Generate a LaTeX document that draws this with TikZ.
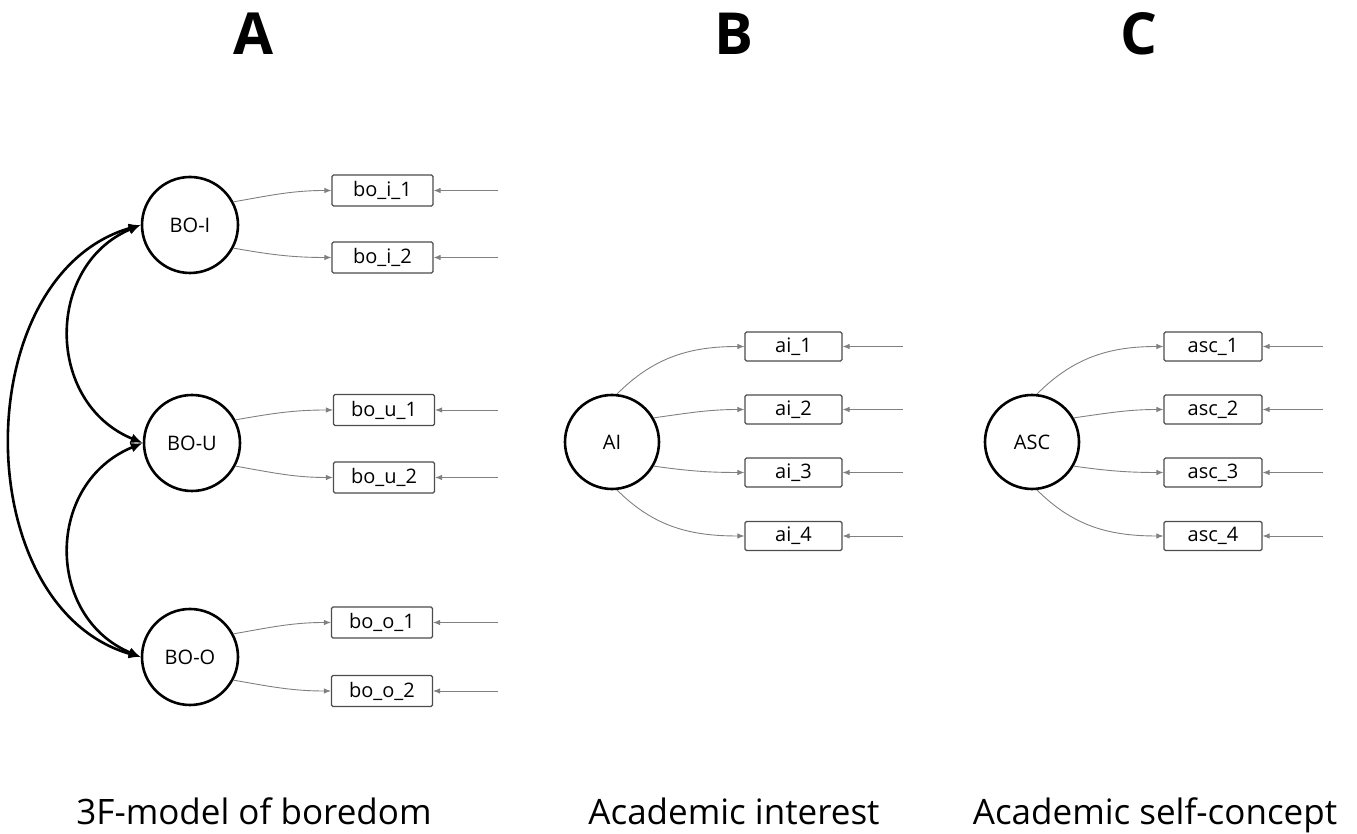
\documentclass[tikz,border=0pt]{standalone}
\usepackage{fontspec}
\setmainfont{Open Sans}
\usetikzlibrary{arrows.meta}
\begin{document}
\begin{tikzpicture}[x=1pt,y=1pt,
  latent/.style={circle,draw=black,line width=2.6pt,minimum size=96pt,inner sep=0pt,
    font=\fontsize{20}{22}\selectfont},
  latentsm/.style={latent,minimum size=94pt},
  indicator/.style={rectangle,draw=black!70,line width=1.2pt,rounded corners=1.5pt,
    minimum width=101pt,minimum height=31pt,inner sep=0pt,font=\fontsize{20}{22}\selectfont},
  indicatorsm/.style={indicator,minimum width=97pt,minimum height=29pt},
  loading/.style={draw=black!50,line width=0.9pt,-{Latex[length=7pt,width=5.5pt]}},
  residual/.style={draw=black!50,line width=0.9pt,-{Latex[length=7pt,width=5.5pt]}},
  covar/.style={draw=black,line width=2.6pt,
    {Latex[length=12pt,width=10pt]}-{Latex[length=12pt,width=10pt]}},
  paneltitle/.style={anchor=base,font=\fontsize{58}{64}\selectfont\bfseries},
  panelcaption/.style={anchor=base,font=\fontsize{35}{40}\selectfont}]
\useasboundingbox (0,0) rectangle (1357,834);

% panel headings
\node[paneltitle] (tA) at (254,779) {A};
\node[paneltitle] (tB) at (734,779) {B};
\node[paneltitle] (tC) at (1139,779) {C};

% panel captions
\node[panelcaption] (cA) at (254,9) {3F-model of boredom};
\node[panelcaption] (cB) at (734,9) {Academic interest};
\node[panelcaption] (cC) at (1155,9) {Academic self-concept};

% ---------- A: three-factor boredom model ----------
\node[latent] (BOI) at (190,609) {BO-I};
\node[latent] (BOU) at (192,391) {BO-U};
\node[latent] (BOO) at (190,177) {BO-O};

\node[indicator] (boi1) at (382.5,643.5) {bo\_i\_1};
\node[indicator] (boi2) at (382.5,576.5) {bo\_i\_2};
\node[indicator] (bou1) at (384,424) {bo\_u\_1};
\node[indicator] (bou2) at (384,356.5) {bo\_u\_2};
\node[indicator] (boo1) at (382,211.5) {bo\_o\_1};
\node[indicator] (boo2) at (382,143) {bo\_o\_2};

\foreach \f/\a/\b in {BOI/boi1/boi2,BOU/bou1/bou2,BOO/boo1/boo2}{
  \draw[loading] (\f.28) to[out=10,in=180] (\a.west);
  \draw[loading] (\f.-28) to[out=-10,in=180] (\b.west);
}
\foreach \i in {boi1,boi2,bou1,bou2,boo1,boo2}{
  \coordinate (e\i) at (498,0 |- \i.east);
  \draw[residual] (e\i) -- (\i.east);
}

% factor covariances
\draw[covar] (BOI.west) .. controls (45,569) and (45,431) .. (BOU.west);
\draw[covar] (BOU.west) .. controls (45,351) and (45,217) .. (BOO.west);
\draw[covar] (BOI.west) .. controls (-33,559) and (-33,227) .. (BOO.west);

% ---------- B: academic interest ----------
\node[latentsm] (AI) at (612,392) {AI};
\node[indicatorsm] (ai1) at (793.5,487.5) {ai\_1};
\node[indicatorsm] (ai2) at (793.5,424.5) {ai\_2};
\node[indicatorsm] (ai3) at (793.5,361.5) {ai\_3};
\node[indicatorsm] (ai4) at (793.5,298) {ai\_4};

% ---------- C: academic self-concept ----------
\node[latentsm] (ASC) at (1032,392) {ASC};
\node[indicatorsm,minimum width=98pt] (asc1) at (1213,487.5) {asc\_1};
\node[indicatorsm,minimum width=98pt] (asc2) at (1213,424.5) {asc\_2};
\node[indicatorsm,minimum width=98pt] (asc3) at (1213,361.5) {asc\_3};
\node[indicatorsm,minimum width=98pt] (asc4) at (1213,298) {asc\_4};

\foreach \f/\p/\x in {AI/ai/903,ASC/asc/1323}{
  \draw[loading] (\f.84) to[out=45,in=180] (\p1.west);
  \draw[loading] (\f.30) to[out=8,in=180] (\p2.west);
  \draw[loading] (\f.-30) to[out=-8,in=180] (\p3.west);
  \draw[loading] (\f.-84) to[out=-45,in=180] (\p4.west);
  \foreach \k in {1,2,3,4}{
    \coordinate (e\p\k) at (\x,0 |- \p\k.east);
    \draw[residual] (e\p\k) -- (\p\k.east);
  }
}
\end{tikzpicture}
\end{document}
